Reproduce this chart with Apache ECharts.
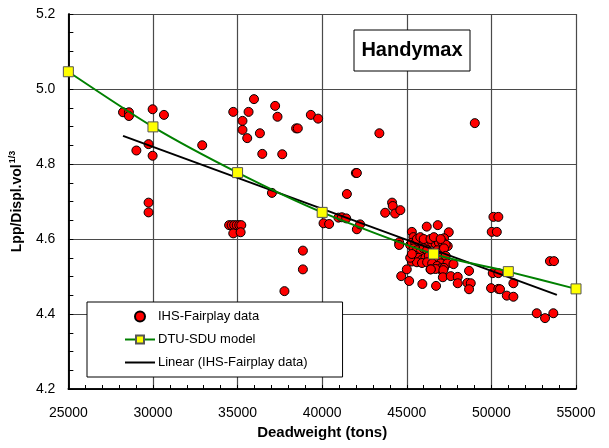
<!DOCTYPE html>
<html>
<head>
<meta charset="utf-8">
<script src="https://cdn.jsdelivr.net/npm/echarts@6/dist/echarts.min.js"></script>
<style>
  html, body { margin: 0; padding: 0; background: #fff; }
  #chart { width: 609px; height: 448px; }
</style>
</head>
<body>
<div id="chart"></div>
<script>
// Axis ticks
const xTicks = [25000, 30000, 35000, 40000, 45000, 50000, 55000];
const yTicks = [4.2, 4.4, 4.6, 4.8, 5.0, 5.2];

// IHS-Fairplay fleet data: deadweight (t) vs Lpp / displacement^(1/3)
const fleetDwt = [
  28230, 28580, 28580, 29980, 30650, 29740, 29020, 29980, 32910, 29740, 29740,
  34745, 35290, 35290, 35650, 35570, 35970, 36320, 36460, 37220, 37360, 37640,
  38460, 38560, 39330, 39760, 43380, 41990, 42050, 41460, 37030, 49020,
  34500, 34650, 34800, 34950, 35100, 35220, 34745, 35180,
  38860, 38860, 37770,
  40080, 40410, 40960, 41160, 41420, 42050, 42240,
  43720, 44130, 44170, 44310, 44620,
  44550, 44550, 44670, 45000, 45140, 45200, 45300, 45390,
  46180, 46830, 47480, 47200, 47420,
  45300, 45500, 45700, 45900, 46100, 46300, 46500, 46700, 46900, 47100, 47300,
  45400, 45600, 45800, 46000, 46200, 46800, 47000, 47200,
  45500, 45700, 45900, 46100, 46300, 46900, 47100, 47300,
  45300, 45600, 45900, 46200, 46600, 47000, 47400,
  45200, 45300, 46500, 46800, 47000, 47100, 46700, 46400,
  45600, 45800, 46000, 46400, 46600, 47000,
  47760, 47200, 47160, 46420,
  45920, 46730, 47130, 47600, 48010, 48010, 48580, 48780, 48680, 48680,
  50080, 50410, 49980, 50410, 50020, 50320, 50120, 50410,
  53460, 53700, 51300, 50910, 51300, 50510,
  52680, 53170, 53660
];
const fleetRatio = [
  4.938, 4.938, 4.928, 4.946, 4.931, 4.853, 4.836, 4.822, 4.850, 4.697, 4.671,
  4.939, 4.915, 4.891, 4.939, 4.869, 4.973, 4.882, 4.827, 4.955, 4.926, 4.826,
  4.895, 4.895, 4.931, 4.921, 4.882, 4.776, 4.776, 4.720, 4.723, 4.909,
  4.637, 4.637, 4.637, 4.637, 4.637, 4.637, 4.615, 4.618,
  4.569, 4.519, 4.461,
  4.642, 4.640, 4.657, 4.658, 4.655, 4.626, 4.639,
  4.670, 4.697, 4.688, 4.668, 4.677,
  4.591, 4.584, 4.501, 4.519, 4.488, 4.584, 4.619, 4.605,
  4.633, 4.637, 4.618, 4.602, 4.581,
  4.590, 4.590, 4.592, 4.590, 4.590, 4.592, 4.590, 4.588, 4.590, 4.592, 4.585,
  4.575, 4.570, 4.565, 4.575, 4.570, 4.570, 4.565, 4.575,
  4.555, 4.550, 4.545, 4.550, 4.555, 4.550, 4.545, 4.555,
  4.540, 4.538, 4.536, 4.538, 4.540, 4.535, 4.535,
  4.550, 4.560, 4.535, 4.528, 4.522, 4.515, 4.520, 4.519,
  4.600, 4.605, 4.600, 4.600, 4.605, 4.600,
  4.533, 4.523, 4.517, 4.519,
  4.480, 4.475, 4.498, 4.501, 4.499, 4.482, 4.483, 4.482, 4.466, 4.515,
  4.509, 4.509, 4.469, 4.467, 4.619, 4.619, 4.659, 4.659,
  4.541, 4.541, 4.482, 4.449, 4.446, 4.466,
  4.402, 4.389, 4.402
];

// DTU-SDU model curve
const modelDwt = [25000, 30000, 35000, 40000, 46580, 51000, 55000];
const modelRatio = [5.046, 4.899, 4.777, 4.671, 4.560, 4.513, 4.467];

// Linear fit to the fleet data (end points of the fitted range)
const fitDwt = [28230, 53870];
const fitRatio = [4.875, 4.451];

const pairs = (xs, ys) => xs.map((x, i) => [x, ys[i]]);

const chart = echarts.init(document.getElementById('chart'), null, { renderer: 'canvas' });

const font = 'Arial, "Liberation Sans", Helvetica, sans-serif';
const gridColor = '#4a4a4a';
const xMin = xTicks[0], xMax = xTicks[xTicks.length - 1];
const yMin = yTicks[0], yMax = yTicks[yTicks.length - 1];

// Companion axes on the same edges: they draw the axis lines and the
// short inward ticks at the minor spacing.
const tickX = {
  type: 'value', min: xMin, max: xMax, interval: 1000, position: 'bottom', offset: 0,
  axisLine: { show: true, lineStyle: { color: '#000', width: 1.5 } },
  axisTick: { show: true, inside: true, length: 4, lineStyle: { color: '#000', width: 1 } },
  axisLabel: { show: false },
  splitLine: { show: false }
};
const tickY = {
  type: 'value', min: yMin, max: yMax, interval: 0.05, position: 'left', offset: 0,
  axisLine: { show: true, lineStyle: { color: '#000', width: 1.5 } },
  axisTick: { show: true, inside: true, length: 5, lineStyle: { color: '#000', width: 1 } },
  axisLabel: { show: false },
  splitLine: { show: false }
};

chart.setOption({
  animation: false,
  backgroundColor: '#ffffff',
  textStyle: { fontFamily: font },
  grid: { left: 68, right: 33, top: 14, bottom: 59, containLabel: false },
  xAxis: [{
    type: 'value',
    min: xMin,
    max: xMax,
    interval: 5000,
    position: 'bottom',
    name: 'Deadweight (tons)',
    nameLocation: 'middle',
    nameGap: 36,
    nameTextStyle: { fontSize: 15, fontWeight: 'bold', color: '#000', fontFamily: font },
    axisLine: { show: true, lineStyle: { color: '#000', width: 1.5 } },
    axisTick: { show: false },
    axisLabel: { fontSize: 14, color: '#000', margin: 17, fontFamily: font, formatter: v => String(v) },
    splitLine: { show: true, lineStyle: { color: gridColor, width: 1.2 } }
  }, tickX],
  yAxis: [{
    type: 'value',
    min: yMin,
    max: yMax,
    interval: 0.2,
    position: 'left',
    name: '{m|Lpp/Displ.vol}{s|1/3}',
    nameLocation: 'middle',
    nameGap: 39,
    nameRotate: 90,
    nameTextStyle: {
      fontFamily: font,
      rich: {
        m: { fontSize: 14, fontWeight: 'bold', color: '#000', fontFamily: font, lineHeight: 18 },
        s: { fontSize: 9, fontWeight: 'bold', color: '#000', fontFamily: font, verticalAlign: 'top', lineHeight: 18, padding: [0, 0, 8, 1] }
      }
    },
    axisLine: { show: true, lineStyle: { color: '#000', width: 1.5 } },
    axisTick: { show: false },
    axisLabel: {
      fontSize: 14, color: '#000', margin: 13, fontFamily: font,
      formatter: v => v.toFixed(1)
    },
    splitLine: { show: true, lineStyle: { color: gridColor, width: 1.2 } }
  }, tickY],
  legend: {
    orient: 'vertical',
    left: 87,
    top: 302,
    padding: [8, 35, 8, 37],
    itemGap: 10,
    itemWidth: 30,
    itemHeight: 10,
    borderColor: '#000',
    borderWidth: 1,
    backgroundColor: '#fff',
    textStyle: { fontSize: 13, color: '#000', fontFamily: font, padding: [0, 0, 0, -2] },
    data: [
      { name: 'IHS-Fairplay data', icon: 'circle' },
      { name: 'DTU-SDU model' },
      { name: 'Linear (IHS-Fairplay data)', itemStyle: { opacity: 0 } }
    ]
  },
  graphic: [
    {
      type: 'rect',
      shape: { x: 354, y: 30, width: 116, height: 41 },
      style: { fill: '#fff', stroke: '#000', lineWidth: 1 },
      z: 100
    },
    {
      type: 'text',
      x: 412, y: 50.5,
      style: {
        text: 'Handymax', fontSize: 20, fontWeight: 'bold', fill: '#000',
        fontFamily: font, align: 'center', verticalAlign: 'middle'
      },
      z: 101
    }
  ],
  series: [
    {
      name: 'IHS-Fairplay data',
      type: 'scatter',
      symbol: 'circle',
      symbolSize: 9,
      itemStyle: { color: '#ff0000', borderColor: '#000', borderWidth: 1, opacity: 1 },
      data: pairs(fleetDwt, fleetRatio),
      z: 3
    },
    {
      name: 'DTU-SDU model',
      type: 'line',
      smooth: 0.25,
      symbol: 'rect',
      symbolSize: 10,
      showAllSymbol: true,
      lineStyle: { color: '#008000', width: 2 },
      itemStyle: { color: '#ffff00', borderColor: '#555', borderWidth: 1 },
      data: pairs(modelDwt, modelRatio),
      z: 5
    },
    {
      name: 'Linear (IHS-Fairplay data)',
      type: 'line',
      symbol: 'none',
      lineStyle: { color: '#000', width: 2 },
      itemStyle: { color: '#000' },
      data: pairs(fitDwt, fitRatio),
      z: 4
    }
  ]
});
</script>
</body>
</html>
